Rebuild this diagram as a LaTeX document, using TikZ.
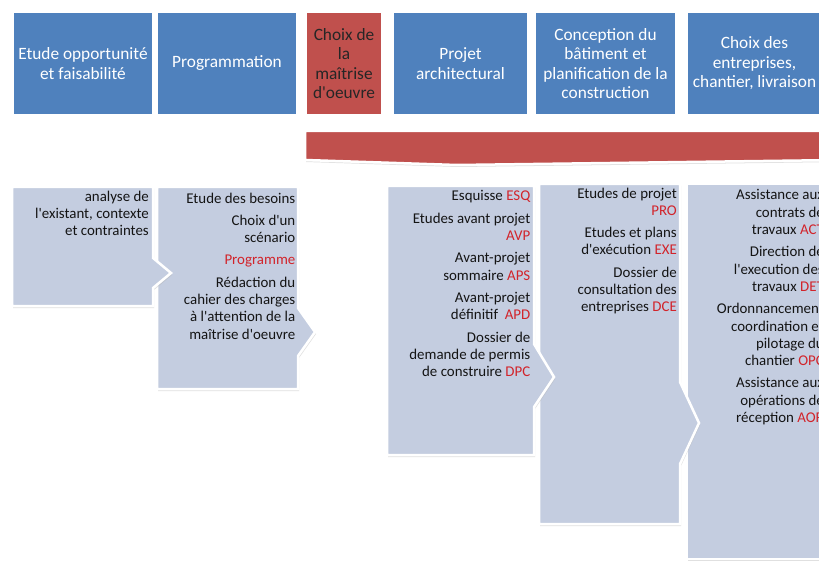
\documentclass[tikz,border=0pt]{standalone}
\usepackage{fontspec}
\setmainfont{Carlito}[Ligatures=TeXOff]
\usetikzlibrary{shadows}
\definecolor{hblue}{HTML}{4F81BD}
\definecolor{hred}{HTML}{C0504D}
\definecolor{lfill}{HTML}{C4CDE0}
\definecolor{acr}{HTML}{D2232A}
\definecolor{txt}{HTML}{141414}
\newcommand\rc[1]{\textcolor{acr}{#1}}
\begin{document}
\begin{tikzpicture}[x=1pt,y=-1pt,
  shp/.style={draw=white, line width=2.5pt, line join=miter,
    drop shadow={shadow xshift=1pt, shadow yshift=-2pt, fill=black!30, opacity=.4}},
  hdr/.style={shp, rectangle, inner sep=0pt, text=white, align=center,
    minimum height=104pt, font=\fontsize{17.3}{19.5}\selectfont},
  body/.style={text=txt, align=right, anchor=north east, inner sep=0pt,
    font=\fontsize{14.9}{17.3}\selectfont},
]
\useasboundingbox (0,0) rectangle (819,561);
\clip (0,0) rectangle (819,561);
\fill[white] (0,0) rectangle (819,561);

% red bar
\path[shp, fill=hred] (305,131) -- (840,131) -- (840,160) -- (457,165) -- (305,160) -- cycle;

% headers
\node[hdr, fill=hblue, minimum width=141pt] (h1) at (83,63.5) {Etude opportunité\\et faisabilité};
\node[hdr, fill=hblue, minimum width=141pt] (h2) at (227,63.5) {Programmation};
\node[hdr, fill=hred, text=black!85, minimum width=77pt] (h3) at (344,63.5) {Choix de\\la\\maîtrise\\d'oeuvre};
\node[hdr, fill=hblue, minimum width=136pt] (h4) at (460.5,63.5) {Projet\\architectural};
\node[hdr, fill=hblue, minimum width=142pt] (h5) at (605.5,63.5) {Conception du\\bâtiment et\\planification de la\\construction};
\node[hdr, fill=hblue, minimum width=136pt] (h6) at (754.5,63.5) {Choix des\\entreprises,\\chantier, livraison};

% lower shapes (drawn right to left so that each tab lies on the next box)
\path[shp, fill=lfill] (687,184) -- (830,184) -- (830,559) -- (687,559) -- cycle;
\path[shp, fill=lfill] (539,184) -- (680,184) -- (680,382) -- (699,423) -- (680,464) -- (680,524) -- (539,524) -- cycle;
\path[shp, fill=lfill] (387,186) -- (534,186) -- (534,344) -- (554,377) -- (534,407) -- (534,455) -- (387,455) -- cycle;
\path[shp, fill=lfill] (157,187) -- (298,187) -- (298,308) -- (315,332) -- (298,356) -- (298,389) -- (157,389) -- cycle;
\path[shp, fill=lfill] (12,187) -- (153,187) -- (153,258) -- (171,273) -- (153,288) -- (153,306) -- (12,306) -- cycle;

% texts
\node[body] (t1) at (149,190.5) {analyse de\\l'existant, contexte\\et contraintes};
\node[body] (t2) at (295.5,192.5) {Etude des besoins\\[5pt]Choix d'un\\scénario\\[5pt]\rc{Programme}\\[5pt]Rédaction du\\cahier des charges\\à l'attention de la\\maîtrise d'oeuvre};
\node[body] (t3) at (530.5,190.5) {Esquisse \rc{ESQ}\\[5pt]Etudes avant projet\\\rc{AVP}\\[5pt]Avant-projet\\sommaire \rc{APS}\\[5pt]Avant-projet\\définitif~ \rc{APD}\\[5pt]Dossier de\\demande de permis\\de construire \rc{DPC}};
\node[body] (t4) at (677,187.5) {Etudes de projet\\\rc{PRO}\\[5pt]Etudes et plans\\d'exécution \rc{EXE}\\[5pt]Dossier de\\consultation des\\entreprises \rc{DCE}};
\node[body] (t5) at (824,189.5) {Assistance aux\\contrats de\\travaux \rc{ACT}\\[5pt]Direction de\\l'execution des\\travaux \rc{DET}\\[5pt]Ordonnancement\\coordination et\\pilotage du\\chantier \rc{OPC}\\[5pt]Assistance aux\\opérations de\\réception \rc{AOR}};
\end{tikzpicture}
\end{document}
